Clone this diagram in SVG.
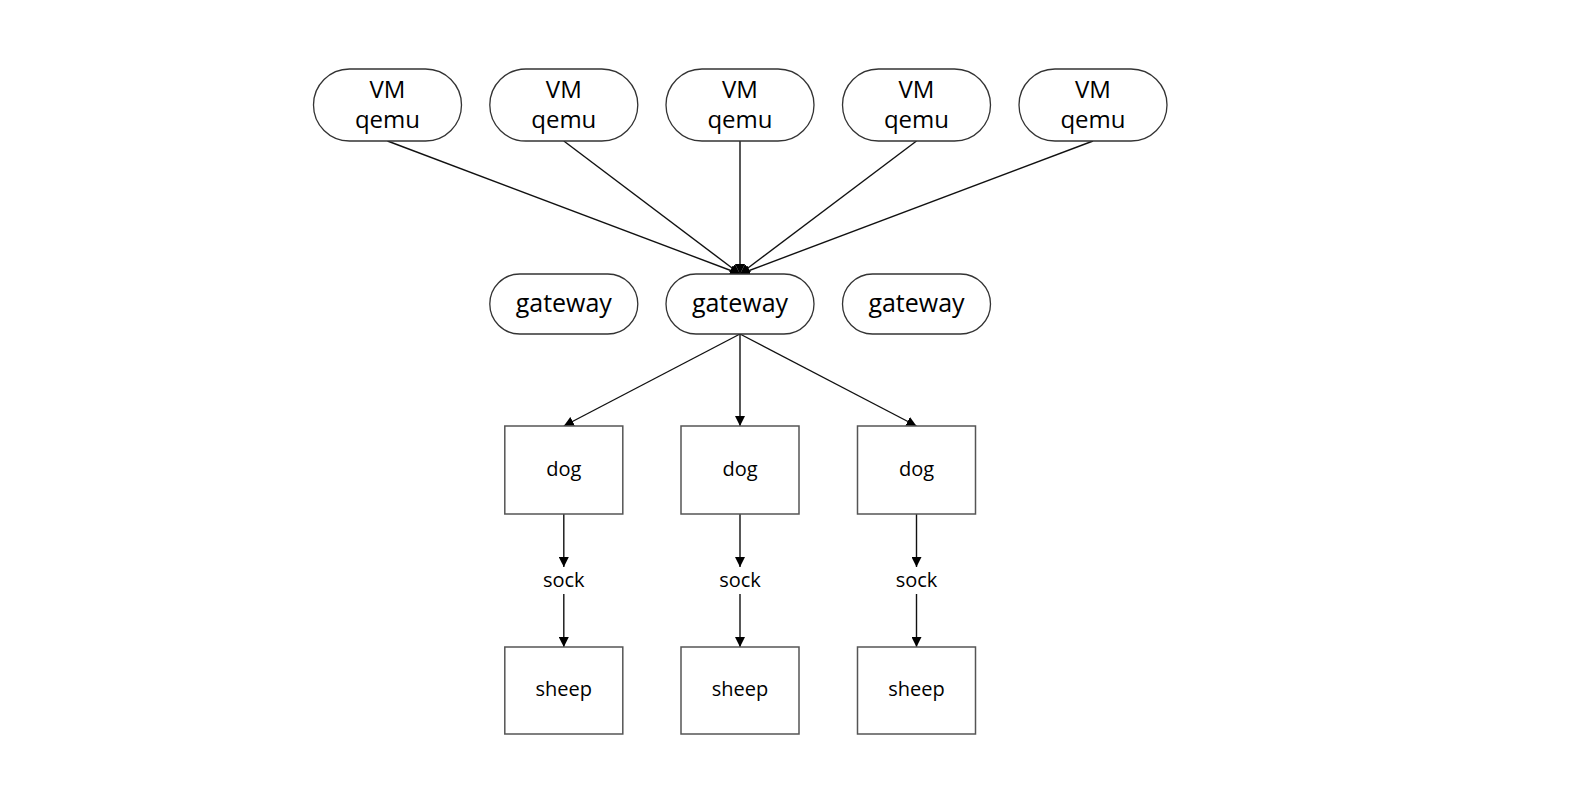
<svg xmlns="http://www.w3.org/2000/svg" width="1581" height="808" viewBox="0 0 1581 808">
<defs>
<marker id="arr" markerUnits="userSpaceOnUse" markerWidth="10" markerHeight="10" refX="10" refY="5" orient="auto">
<path d="M0,0 L10,5 L0,10 z" fill="#000"/>
</marker>
<style>
.pill{fill:#fff;stroke:#333;stroke-width:1.3}
.box{fill:#fff;stroke:#555;stroke-width:1.5}
.big{font-family:"Open Sans","Noto Sans",sans-serif;font-size:24px;fill:#000;text-anchor:middle}
.gw{font-family:"Open Sans","Noto Sans",sans-serif;font-size:25px;fill:#000;text-anchor:middle}
.sm{font-family:"Open Sans","Noto Sans",sans-serif;font-size:20px;fill:#000;text-anchor:middle}
.edge{stroke:#111;stroke-width:1.4;fill:none;marker-end:url(#arr)}
</style>
</defs>
<rect width="1581" height="808" fill="#fff"/>
<g id="connectors">
<line class="edge" x1="387.5" y1="141" x2="740" y2="274"/>
<line class="edge" x1="563.8" y1="141" x2="740" y2="274"/>
<line class="edge" x1="740" y1="141" x2="740" y2="274"/>
<line class="edge" x1="916.5" y1="141" x2="740" y2="274"/>
<line class="edge" x1="1093" y1="141" x2="740" y2="274"/>
<line class="edge" x1="740" y1="334" x2="563.8" y2="426"/>
<line class="edge" x1="740" y1="334" x2="740" y2="426"/>
<line class="edge" x1="740" y1="334" x2="916.5" y2="426"/>
<line class="edge" x1="563.8" y1="514" x2="563.8" y2="567"/>
<line class="edge" x1="563.8" y1="594" x2="563.8" y2="647"/>
<line class="edge" x1="740" y1="514" x2="740" y2="567"/>
<line class="edge" x1="740" y1="594" x2="740" y2="647"/>
<line class="edge" x1="916.5" y1="514" x2="916.5" y2="567"/>
<line class="edge" x1="916.5" y1="594" x2="916.5" y2="647"/>
<text class="sm" x="563.8" y="587">sock</text>
<text class="sm" x="740" y="587">sock</text>
<text class="sm" x="916.5" y="587">sock</text>
</g>
<g id="vm1"><rect class="pill" x="313.5" y="69" width="148" height="72" rx="36"/><text class="big" x="387.5" y="97.5">VM</text><text class="big" x="387.5" y="127.5">qemu</text></g>
<g id="vm2"><rect class="pill" x="489.8" y="69" width="148" height="72" rx="36"/><text class="big" x="563.8" y="97.5">VM</text><text class="big" x="563.8" y="127.5">qemu</text></g>
<g id="vm3"><rect class="pill" x="666" y="69" width="148" height="72" rx="36"/><text class="big" x="740" y="97.5">VM</text><text class="big" x="740" y="127.5">qemu</text></g>
<g id="vm4"><rect class="pill" x="842.5" y="69" width="148" height="72" rx="36"/><text class="big" x="916.5" y="97.5">VM</text><text class="big" x="916.5" y="127.5">qemu</text></g>
<g id="vm5"><rect class="pill" x="1019" y="69" width="148" height="72" rx="36"/><text class="big" x="1093" y="97.5">VM</text><text class="big" x="1093" y="127.5">qemu</text></g>
<g id="gateway1"><rect class="pill" x="489.8" y="274" width="148" height="60" rx="30"/><text class="gw" x="563.8" y="311.5">gateway</text></g>
<g id="gateway2"><rect class="pill" x="666" y="274" width="148" height="60" rx="30"/><text class="gw" x="740" y="311.5">gateway</text></g>
<g id="gateway3"><rect class="pill" x="842.5" y="274" width="148" height="60" rx="30"/><text class="gw" x="916.5" y="311.5">gateway</text></g>
<g id="dog1"><rect class="box" x="504.8" y="426" width="118" height="88"/><text class="sm" x="563.8" y="476">dog</text></g>
<g id="dog2"><rect class="box" x="681" y="426" width="118" height="88"/><text class="sm" x="740" y="476">dog</text></g>
<g id="dog3"><rect class="box" x="857.5" y="426" width="118" height="88"/><text class="sm" x="916.5" y="476">dog</text></g>
<g id="sheep1"><rect class="box" x="504.8" y="647" width="118" height="87"/><text class="sm" x="563.8" y="696">sheep</text></g>
<g id="sheep2"><rect class="box" x="681" y="647" width="118" height="87"/><text class="sm" x="740" y="696">sheep</text></g>
<g id="sheep3"><rect class="box" x="857.5" y="647" width="118" height="87"/><text class="sm" x="916.5" y="696">sheep</text></g>
</svg>
